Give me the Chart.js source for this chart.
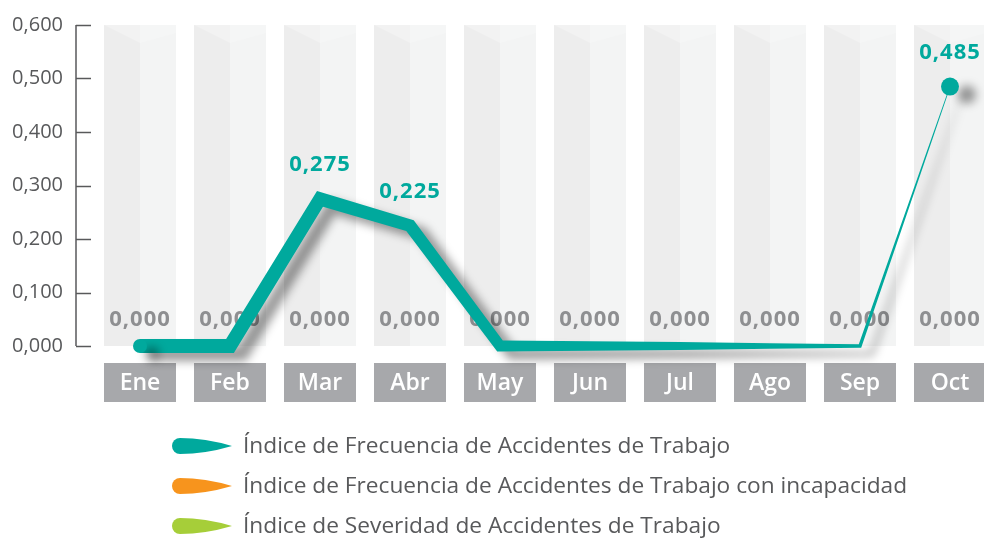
<!DOCTYPE html>
<html><head><meta charset="utf-8">
<script src="https://cdn.jsdelivr.net/npm/chart.js@4/dist/chart.umd.min.js"></script>
<style>html,body{margin:0;padding:0;background:#fff}#wrap{width:984px;height:538px;position:relative}</style>
</head><body><div id="wrap"><canvas id="c" width="984" height="538"></canvas></div>
<script>
const categories = ['Ene','Feb','Mar','Abr','May','Jun','Jul','Ago','Sep','Oct'];
const frecuencia = [0, 0, 0.275, 0.225, 0, 0, 0, 0, 0, 0.485];
const frecuenciaIncap = [0, 0, 0, 0, 0, 0, 0, 0, 0, 0];
const severidad = [0, 0, 0, 0, 0, 0, 0, 0, 0, 0];
const seriesNames = [
  'Índice de Frecuencia de Accidentes de Trabajo',
  'Índice de Frecuencia de Accidentes de Trabajo con incapacidad',
  'Índice de Severidad de Accidentes de Trabajo'
];
const yTicks = [0, 0.1, 0.2, 0.3, 0.4, 0.5, 0.6];

const TEAL = '#00a99d', ORANGE = '#f7941d', GREEN = '#a6ce39';
const FONT = '"Open Sans", "DejaVu Sans", sans-serif';
const fmt = v => v.toFixed(3).replace('.', ',');
const toXY = arr => arr.map((v, i) => ({x: i, y: v}));
const CAT_STEP = 90, FIRST_CAT_PX = 140;

const decor = {
  id: 'decor',
  afterLayout(chart) {
    const xs = chart.scales.x;
    xs.min = -(FIRST_CAT_PX - xs.left) / CAT_STEP;
    xs.max = xs.min + (xs.right - xs.left) / CAT_STEP;
    xs.configure();
  },
  beforeDatasetsDraw(chart) {
    const ctx = chart.ctx, xs = chart.scales.x, ys = chart.scales.y;
    const step = xs.getPixelForValue(1) - xs.getPixelForValue(0);
    const w = step * 0.8, top = ys.getPixelForValue(yTicks[yTicks.length-1]), bot = ys.getPixelForValue(0);
    ctx.save();
    categories.forEach((c, i) => {
      const cx = xs.getPixelForValue(i), l = cx - w/2, r = cx + w/2;
      ctx.fillStyle = '#ededed'; ctx.fillRect(l, top, w/2, bot - top);
      ctx.fillStyle = '#f3f4f4'; ctx.fillRect(cx, top, w/2, bot - top);
      ctx.fillStyle = '#f2f2f2';
      ctx.beginPath(); ctx.moveTo(l, top); ctx.lineTo(cx, top + 18); ctx.lineTo(cx, top); ctx.closePath(); ctx.fill();
      ctx.fillStyle = '#f5f6f6';
      ctx.beginPath(); ctx.moveTo(cx, top); ctx.lineTo(cx, top + 18); ctx.lineTo(r, top + 8); ctx.lineTo(r, top); ctx.closePath(); ctx.fill();
      ctx.fillStyle = '#a7a8ab';
      ctx.fillRect(l, bot + 17, w, 39);
      ctx.fillStyle = '#ffffff';
      ctx.font = '600 23px ' + FONT;
      ctx.textAlign = 'center'; ctx.textBaseline = 'middle';
      ctx.fillText(c, cx, bot + 37);
    });
    const ax = chart.chartArea.left;
    ctx.strokeStyle = '#58595b'; ctx.lineWidth = 1.5;
    ctx.beginPath(); ctx.moveTo(ax, top); ctx.lineTo(ax, bot); ctx.stroke();
    yTicks.forEach(t => {
      const y = Math.round(ys.getPixelForValue(t)) + 0.5;
      ctx.beginPath(); ctx.moveTo(ax, y); ctx.lineTo(ax + 15, y); ctx.stroke();
    });
    const m1 = chart.getDatasetMeta(1);
    ctx.fillStyle = '#8e8f91';
    ctx.font = 'bold 22px ' + FONT;
    ctx.letterSpacing = '1px';
    ctx.textAlign = 'center'; ctx.textBaseline = 'middle';
    m1.data.forEach((p, i) => {
      ctx.fillText(fmt(chart.data.datasets[1].data[i].y), p.x, p.y - 26);
    });
    ctx.restore();
  },
  beforeDatasetDraw(chart, args) {
    if (args.index !== 0) return;
    const ctx = chart.ctx;
    const pts = args.meta.data.map(p => ({x: p.x, y: p.y}));
    const n = pts.length;
    const x0 = pts[0].x, xN = pts[n-1].x;
    const W0 = 14, WN = 0.7;
    const wid = pts.map(p => { const t = (p.x - x0) / (xN - x0); return WN + (W0 - WN) * (1 - Math.pow(t, 1.9)); });
    const normals = [];
    for (let i = 0; i < n - 1; i++) {
      const dx = pts[i+1].x - pts[i].x, dy = pts[i+1].y - pts[i].y, L = Math.hypot(dx, dy);
      normals.push({x: -dy / L, y: dx / L});
    }
    const left = [], right = [];
    for (let i = 0; i < n; i++) {
      let mx, my, s = 1;
      if (i === 0) { mx = normals[0].x; my = normals[0].y; }
      else if (i === n - 1) { mx = normals[n-2].x; my = normals[n-2].y; }
      else {
        const a = normals[i-1], b = normals[i];
        mx = a.x + b.x; my = a.y + b.y;
        const ml = Math.hypot(mx, my); mx /= ml; my /= ml;
        s = 1 / Math.max(0.3, mx * b.x + my * b.y);
      }
      const h = wid[i] / 2 * s;
      left.push({x: pts[i].x + mx * h, y: pts[i].y + my * h});
      right.push({x: pts[i].x - mx * h, y: pts[i].y - my * h});
    }
    ctx.save();
    ctx.shadowColor = 'rgba(0,0,0,0.4)';
    ctx.shadowBlur = 10; ctx.shadowOffsetX = 12; ctx.shadowOffsetY = 8;
    ctx.fillStyle = TEAL;
    ctx.beginPath();
    ctx.moveTo(left[0].x, left[0].y);
    for (let i = 1; i < n; i++) ctx.lineTo(left[i].x, left[i].y);
    for (let i = n - 1; i >= 0; i--) ctx.lineTo(right[i].x, right[i].y);
    ctx.closePath();
    ctx.fill();
    ctx.beginPath(); ctx.arc(pts[0].x, pts[0].y, W0 / 2, 0, Math.PI * 2); ctx.fill();
    ctx.shadowOffsetX = 17;
  },
  afterDatasetDraw(chart, args) {
    if (args.index !== 0) return;
    chart.ctx.restore();
  },
  afterDatasetsDraw(chart) {
    const ctx = chart.ctx, meta = chart.getDatasetMeta(0);
    ctx.save();
    ctx.fillStyle = TEAL;
    ctx.font = 'bold 22px ' + FONT;
    ctx.letterSpacing = '1px';
    ctx.textAlign = 'center'; ctx.textBaseline = 'middle';
    meta.data.forEach((p, i) => {
      const v = chart.data.datasets[0].data[i].y;
      if (v !== 0) ctx.fillText(fmt(v), p.x, p.y - 34);
    });
    ctx.letterSpacing = '0px';
    const cols = [TEAL, ORANGE, GREEN];
    ctx.font = '22.7px ' + FONT;
    ctx.textAlign = 'left';
    chart.data.datasets.forEach((ds, k) => {
      const y = 446 + k * 40;
      ctx.fillStyle = cols[k];
      ctx.beginPath();
      ctx.moveTo(232, y);
      ctx.quadraticCurveTo(205, y - 8, 180, y - 8);
      ctx.arc(180, y, 8, -Math.PI / 2, Math.PI / 2, true);
      ctx.quadraticCurveTo(205, y + 8, 232, y);
      ctx.closePath(); ctx.fill();
      ctx.fillStyle = '#58595b';
      ctx.fillText(ds.label, 243, y + 1);
    });
    ctx.restore();
  }
};

new Chart(document.getElementById('c'), {
  type: 'line',
  data: {
    labels: categories,
    datasets: [
      {label: seriesNames[0], data: toXY(frecuencia), showLine: false, borderColor: TEAL, backgroundColor: TEAL,
       pointRadius: ctx => ctx.dataIndex === categories.length - 1 ? 9 : 0, pointBorderWidth: 0,
       pointBackgroundColor: TEAL, clip: false},
      {label: seriesNames[1], data: toXY(frecuenciaIncap), showLine: false, pointRadius: 0, borderColor: ORANGE, backgroundColor: ORANGE},
      {label: seriesNames[2], data: toXY(severidad), showLine: false, pointRadius: 0, borderColor: GREEN, backgroundColor: GREEN}
    ]
  },
  options: {
    responsive: false, animation: false,
    layout: {padding: {top: 20, right: 0, bottom: 192, left: 0}},
    plugins: {legend: {display: false}, tooltip: {enabled: false}},
    scales: {
      x: {type: 'linear', bounds: 'data', min: -0.7, max: 9.4, display: false},
      y: {
        min: 0, max: 0.6,
        afterFit: s => { s.width = 76; },
        afterBuildTicks: s => { s.ticks = yTicks.map(v => ({value: v})); },
        grid: {display: false, drawTicks: false},
        border: {display: false},
        ticks: {padding: 13, color: '#58595b', font: {family: FONT, size: 20}, callback: v => fmt(v)}
      }
    }
  },
  plugins: [decor]
});
</script></body></html>
